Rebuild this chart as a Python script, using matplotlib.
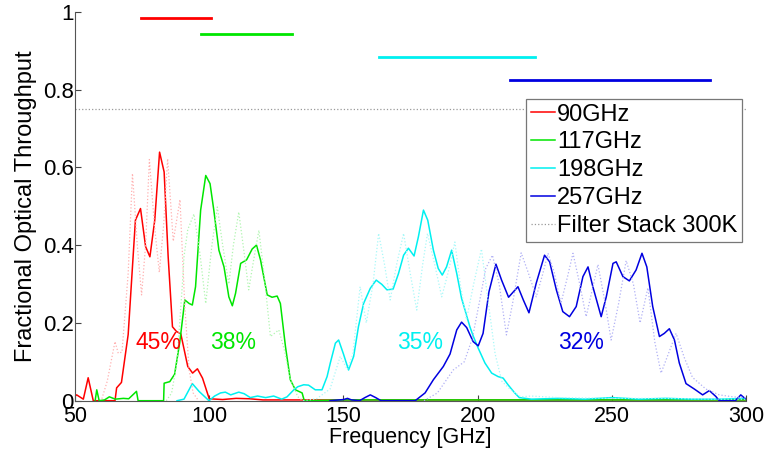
import matplotlib.pyplot as plt
import numpy as np

plt.rcParams['font.family'] = ['Liberation Sans', 'DejaVu Sans']

# --- measured band curves (frequency in GHz, throughput fraction) ---
red_f = [50, 50.6, 53.1, 54.9, 56.8, 60, 64.9, 65.5, 67.3, 69.8, 72.5, 74.4, 76.3, 77.9,
         79.7, 81.5, 83.2, 84.7, 86.3, 87.8, 89.4, 92.0, 93.8, 95.6, 97.5, 100.0, 105,
         110, 115, 120, 140, 160, 200, 250, 300]
red_v = [0.012, 0.015, 0.004, 0.059, 0.0, 0.0, 0.0, 0.033, 0.047, 0.17, 0.464, 0.494,
         0.396, 0.37, 0.464, 0.639, 0.588, 0.37, 0.19, 0.178, 0.172, 0.088, 0.071, 0.082,
         0.058, 0.005, 0.003, 0.006, 0.005, 0.002, 0.002, 0.002, 0.002, 0.002, 0.002]

green_f = [57.5, 58.1, 59, 61, 62.8, 65, 68, 70, 72.9, 73.5, 80, 83.0, 83.2, 85.3, 87.1,
           89.0, 90.9, 92.5, 93.7, 94.9, 96.8, 98.7, 100.3, 101.7, 103.6, 105.5, 107.3,
           108.6, 109.8, 111.7, 113.9, 116, 117.6, 119.1, 121.6, 123.4, 125.3, 126.5,
           128.4, 130.2, 132.1, 134.6, 135.4, 150, 200, 250, 300]
green_v = [0.0, 0.028, 0.0, 0.002, 0.01, 0.004, 0.006, 0.005, 0.024, 0.0, 0.0, 0.0, 0.045,
           0.049, 0.068, 0.149, 0.259, 0.25, 0.246, 0.293, 0.49, 0.579, 0.558, 0.49, 0.387,
           0.344, 0.267, 0.244, 0.276, 0.353, 0.362, 0.39, 0.40, 0.362, 0.272, 0.266,
           0.269, 0.25, 0.139, 0.054, 0.028, 0.02, 0.0, 0.002, 0.002, 0.002, 0.002]

cyan_f = [88, 90.6, 93.7, 96.2, 99.9, 102, 104.2, 106, 108, 111, 113, 115.3, 118, 121, 124,
          127, 129, 131.5, 133, 135.2, 137, 139.5, 142, 143.9, 145.1, 147, 148.2, 150,
          151.9, 153.8, 155.6, 157.5, 160, 162.2, 164.3, 166.2, 168.5, 170.5, 172.4,
          174.2, 176.3, 177.9, 179.8, 181.4, 183.5, 185.3, 186.8, 188.4, 190.3, 192.2,
          194, 197.1, 198.4, 200.2, 202.7, 205.2, 207.6, 209.5, 211.3, 213.8, 215.5, 220,
          230, 240, 250, 260, 270, 280, 290, 300]
cyan_v = [0.0, 0.004, 0.044, 0.024, 0.0, 0.012, 0.02, 0.022, 0.015, 0.022, 0.018, 0.008,
          0.012, 0.008, 0.012, 0.004, 0.01, 0.028, 0.036, 0.041, 0.04, 0.028, 0.028, 0.062,
          0.097, 0.148, 0.156, 0.12, 0.079, 0.114, 0.191, 0.25, 0.289, 0.31, 0.299, 0.285,
          0.287, 0.327, 0.374, 0.392, 0.372, 0.421, 0.49, 0.464, 0.387, 0.34, 0.323, 0.344,
          0.387, 0.327, 0.263, 0.19, 0.165, 0.135, 0.097, 0.071, 0.062, 0.058, 0.041, 0.02,
          0.008, 0.004, 0.006, 0.004, 0.008, 0.004, 0.006, 0.004, 0.004, 0.006]

blue_f = [145, 150, 151.5, 153, 156, 158, 160, 162, 164, 170, 176.7, 180.4, 183.5, 187.2,
          189.7, 192.2, 194, 195.9, 198.3, 200.2, 202, 204.2, 206.8, 208.9, 211.5, 215,
          217, 219.1, 221.8, 224.9, 226.8, 229.3, 231.7, 234.2, 236.7, 239.2, 241.1, 242.9,
          246, 247.9, 250.4, 251.6, 254.1, 256.5, 259, 261.2, 263, 265.2, 267.7, 269.5,
          271.4, 273.3, 275.1, 277.6, 280.7, 283.8, 286.3, 288.7, 290, 296, 298, 299.7]
blue_v = [0, 0.003, 0.006, 0.002, 0, 0.008, 0.015, 0.008, 0, 0, 0, 0.02, 0.054, 0.088,
          0.12, 0.182, 0.202, 0.188, 0.152, 0.141, 0.173, 0.28, 0.351, 0.31, 0.266, 0.293,
          0.259, 0.226, 0.302, 0.374, 0.357, 0.285, 0.229, 0.216, 0.242, 0.319, 0.344,
          0.293, 0.216, 0.267, 0.353, 0.357, 0.319, 0.308, 0.336, 0.379, 0.344, 0.242,
          0.165, 0.173, 0.185, 0.156, 0.097, 0.044, 0.03, 0.015, 0.026, 0.011, 0.0, 0.0,
          0.015, 0.005]

# --- band curves times the 300K filter stack (dotted) ---
red_dot_f = [60, 62, 64.9, 66.1, 67.5, 69.8, 71.4, 73.2, 74.8, 76.3, 77.7, 79.6, 81.4,
             83.0, 84.5, 86.6, 89.1, 90.9, 92.5, 94, 96]
red_dot_v = [0.005, 0.05, 0.152, 0.122, 0.125, 0.327, 0.584, 0.4, 0.272, 0.4, 0.62, 0.45,
             0.33, 0.45, 0.622, 0.41, 0.517, 0.242, 0.08, 0.02, 0.0]

green_dot_f = [84, 86, 88, 90, 90.6, 92, 94.3, 96.5, 98.7, 101, 103, 105, 107.3, 109, 111,
               113, 114.7, 116.5, 118.5, 120.5, 122.8, 125.9, 128, 130, 133, 135]
green_dot_v = [0.0, 0.02, 0.1, 0.3, 0.37, 0.44, 0.48, 0.38, 0.25, 0.4, 0.498, 0.4, 0.3, 0.4,
               0.485, 0.38, 0.285, 0.36, 0.438, 0.32, 0.165, 0.182, 0.13, 0.06, 0.01, 0.0]

cyan_dot_f = [135, 140, 145, 148.8, 151.5, 153.5, 156.2, 158.5, 161, 163.1, 165.3, 167.4,
              169.8, 172.4, 174.8, 177.3, 179.5, 181.3, 184, 186.6, 189, 191.5, 193.5,
              195.8, 198.5, 201.4, 204, 206.5, 209, 212, 216, 220, 230, 250, 270, 290, 300]
cyan_dot_v = [0.0, 0.005, 0.03, 0.114, 0.08, 0.12, 0.293, 0.2, 0.3, 0.43, 0.35, 0.259,
              0.35, 0.43, 0.33, 0.233, 0.35, 0.43, 0.35, 0.267, 0.33, 0.408, 0.3, 0.208,
              0.3, 0.39, 0.25, 0.12, 0.05, 0.03, 0.01, 0.012, 0.008, 0.006, 0.006, 0.004,
              0.004]

blue_dot_f = [180, 185, 190.9, 195, 198, 200.8, 203, 205.5, 208, 210.7, 213, 216.2, 218.8,
              221.8, 224, 226.2, 228.5, 231, 233.5, 235.5, 238, 240.4, 242.5, 244.8, 247.5,
              249.7, 252.5, 255.3, 258, 260.5, 263.4, 266, 268.3, 271, 273.9, 277, 280, 285,
              290, 295, 300]
blue_dot_v = [0.0, 0.02, 0.079, 0.1, 0.16, 0.259, 0.34, 0.374, 0.3, 0.169, 0.25, 0.38,
              0.33, 0.267, 0.32, 0.379, 0.33, 0.25, 0.32, 0.379, 0.3, 0.216, 0.28, 0.35,
              0.25, 0.156, 0.25, 0.36, 0.3, 0.2, 0.29, 0.15, 0.071, 0.12, 0.173, 0.11, 0.06,
              0.03, 0.015, 0.01, 0.008]

# band edges drawn as bars at the top
band_lo = [74.6, 97.0, 163.3, 212.1]
band_hi = [100.6, 131.0, 221.4, 286.6]
band_level = [0.984, 0.943, 0.884, 0.824]

labels = ['90GHz', '117GHz', '198GHz', '257GHz']
percent = ['45%', '38%', '35%', '32%']
percent_f = [81, 109, 178.5, 238.4]
filter_stack = 0.75

colors = ['#ff0000', '#00e600', '#00f0f0', '#0000e0']
light = ['#ffb0b0', '#b0f5b0', '#a8f8f8', '#b0b0f5']

fig = plt.figure(figsize=(7.67, 4.59), dpi=100)
ax = fig.add_axes([0.0978, 0.127, 0.875, 0.8475])

solid = [(red_f, red_v), (green_f, green_v), (cyan_f, cyan_v), (blue_f, blue_v)]
dotted = [(red_dot_f, red_dot_v), (green_dot_f, green_dot_v),
          (cyan_dot_f, cyan_dot_v), (blue_dot_f, blue_dot_v)]

for (f, v), c, lab in zip(solid, colors, labels):
    ax.plot(f, v, color=c, lw=1.1, label=lab)
ax.plot([50, 300], [filter_stack, filter_stack], color='#999999', lw=0.9,
        linestyle=':', label='Filter Stack 300K')
for (f, v), c in zip(dotted, light):
    ax.plot(f, v, color=c, lw=0.9, linestyle=':')

for lo, hi, lev, c in zip(band_lo, band_hi, band_level, colors):
    ax.plot([lo, hi], [lev, lev], color=c, lw=2.0)

for txt, fx, c in zip(percent, percent_f, colors):
    ax.text(fx, 0.15, txt, color=c, fontsize=16.5, ha='center', va='center')

ax.set_xlim(50, 300)
ax.set_ylim(0, 1)
ax.set_xticks([50, 100, 150, 200, 250, 300])
ax.set_yticks([0, 0.2, 0.4, 0.6, 0.8, 1])
ax.set_yticklabels(['0', '0.2', '0.4', '0.6', '0.8', '1'])
ax.tick_params(direction='in', length=4, colors='#444444', labelcolor='black')
ax.tick_params(axis='x', labelsize=15.5, pad=3.5)
ax.tick_params(axis='y', labelsize=16, pad=1)
for side in ['top', 'right']:
    ax.spines[side].set_visible(False)
for side in ['left', 'bottom']:
    ax.spines[side].set_color('#555555')

ax.set_xlabel('Frequency [GHz]', fontsize=15.5, labelpad=0.5)
ax.set_ylabel('Fractional Optical Throughput', fontsize=17, labelpad=4)

leg = ax.legend(loc='upper right', bbox_to_anchor=(0.994, 0.776), fontsize=17,
                handlelength=1.0, handletextpad=0.1, labelspacing=0.25,
                borderpad=0.2, borderaxespad=0, fancybox=False, framealpha=1)
leg.get_frame().set_edgecolor('#777777')
leg.get_frame().set_linewidth(0.9)

fig.savefig('out.png', dpi=100)
